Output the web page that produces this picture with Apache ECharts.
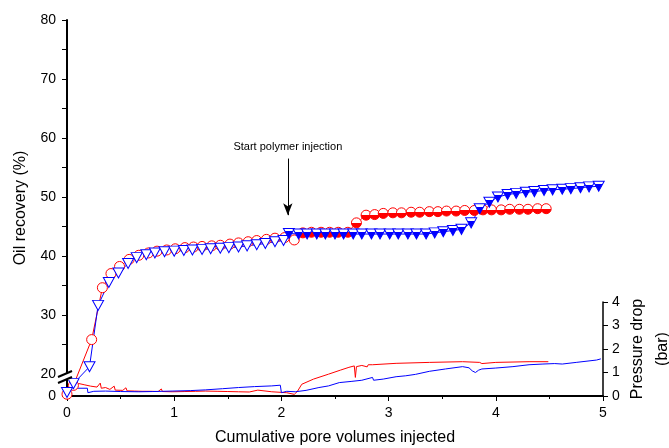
<!DOCTYPE html>
<html>
<head>
<meta charset="utf-8">
<script src="https://cdn.jsdelivr.net/npm/echarts@6/dist/echarts.min.js"></script>
<style>
  html, body { margin: 0; padding: 0; background: #fff; }
  #chart { width: 669px; height: 448px; }
</style>
</head>
<body>
<div id="chart"></div>
<script>
// oil recovery (%) - red circles
const recRedX = [0.00, 0.06, 0.23, 0.33, 0.41, 0.49, 0.58, 0.67, 0.76, 0.84, 0.93, 1.01, 1.10, 1.18, 1.26, 1.35, 1.43, 1.52, 1.60, 1.69, 1.77, 1.86, 1.94, 2.03, 2.12,
  2.20, 2.28, 2.37, 2.45, 2.53, 2.62, 2.70, 2.79, 2.87, 2.95, 3.04, 3.12, 3.21, 3.29, 3.38, 3.46, 3.54, 3.63, 3.71, 3.80, 3.88, 3.96, 4.05, 4.13, 4.22, 4.30, 4.39, 4.47];
const recRedY = [0.3, 1.8, 25.8, 34.6, 37.0, 38.2, 39.4, 40.1, 40.5, 40.8, 41.0, 41.2, 41.4, 41.5, 41.6, 41.7, 41.8, 42.0, 42.2, 42.4, 42.6, 42.8, 43.0, 43.1, 42.7,
  43.9, 44.0, 44.0, 44.0, 44.0, 44.0, 45.6, 46.9, 47.0, 47.2, 47.3, 47.3, 47.4, 47.4, 47.5, 47.5, 47.6, 47.6, 47.7, 47.7, 47.8, 47.8, 47.8, 47.9, 47.9, 47.9, 48.0, 48.0];
// oil recovery (%) - blue triangles
const recBlueX = [0.00, 0.06, 0.21, 0.29, 0.39, 0.48, 0.57, 0.65, 0.74, 0.82, 0.91, 1.00, 1.09, 1.17, 1.26, 1.34, 1.43, 1.51, 1.60, 1.68, 1.77, 1.85, 1.94, 2.02,
  2.07, 2.16, 2.24, 2.33, 2.41, 2.50, 2.58, 2.67, 2.75, 2.84, 2.92, 3.01, 3.09, 3.18, 3.26, 3.35, 3.43, 3.51, 3.60, 3.68, 3.77, 3.85, 3.94, 4.02, 4.11, 4.19, 4.28, 4.36, 4.45, 4.53, 4.62, 4.70, 4.79, 4.87, 4.96];
const recBlueY = [0.6, 2.1, 21.2, 31.6, 35.5, 37.1, 38.7, 39.7, 40.2, 40.5, 40.7, 40.8, 40.9, 41.0, 41.1, 41.2, 41.3, 41.4, 41.5, 41.7, 41.9, 42.1, 42.4, 42.6,
  43.8, 43.7, 43.7, 43.7, 43.7, 43.7, 43.7, 43.7, 43.7, 43.7, 43.7, 43.7, 43.7, 43.7, 43.7, 43.7, 43.9, 44.1, 44.3, 44.5, 45.6, 48.0, 49.1, 50.0, 50.4, 50.6, 50.8, 50.9, 51.1, 51.2, 51.3, 51.4, 51.55, 51.7, 51.8];
const polymerRedFrom = 2.15;
const polymerBlueFrom = 2.05;

// pressure drop (bar)
const presRedX = [0.00, 0.03, 0.06, 0.11, 0.16, 0.22, 0.28, 0.31, 0.32, 0.36, 0.40, 0.44, 0.45, 0.52, 0.55, 0.56, 0.63, 0.70, 0.78, 0.85, 0.88, 0.89, 0.98, 1.10, 1.20, 1.29, 1.40, 1.50, 1.60, 1.70, 1.78, 1.79, 1.91, 2.05, 2.12, 2.13, 2.15, 2.19,
  2.30, 2.44, 2.55, 2.63, 2.68, 2.69, 2.70, 2.75, 2.80, 2.81, 2.85, 3.07, 3.38, 3.69, 3.85, 3.87, 3.88, 4.00, 4.31, 4.49];
const presRedY = [0.15, 0.35, 0.45, 0.53, 0.48, 0.42, 0.38, 0.55, 0.33, 0.36, 0.28, 0.42, 0.25, 0.24, 0.35, 0.22, 0.21, 0.20, 0.20, 0.19, 0.30, 0.19, 0.18, 0.19, 0.20, 0.21, 0.20, 0.19, 0.18, 0.17, 0.25, 0.17, 0.18, 0.14, 0.07, 0.00, 0.20, 0.50,
  0.72, 0.93, 1.10, 1.22, 1.28, 0.79, 1.25, 1.30, 1.24, 1.33, 1.33, 1.39, 1.43, 1.46, 1.43, 1.38, 1.45, 1.43, 1.46, 1.46];
const presBlueX = [0.00, 0.02, 0.05, 0.10, 0.19, 0.195, 0.25, 0.36, 0.50, 0.67, 0.80, 0.98, 1.15, 1.29, 1.45, 1.60, 1.75, 1.91, 1.99, 2.00, 2.05, 2.13, 2.23, 2.35, 2.44, 2.54, 2.65, 2.75, 2.85, 2.86, 2.95,
  3.07, 3.16, 3.25, 3.38, 3.53, 3.69, 3.75, 3.78, 3.81, 3.84, 3.87, 4.00, 4.16, 4.31, 4.44, 4.55, 4.62, 4.75, 4.94, 4.98];
const presBlueY = [0.10, 0.25, 0.31, 0.33, 0.33, 0.14, 0.20, 0.21, 0.19, 0.18, 0.19, 0.21, 0.23, 0.26, 0.31, 0.36, 0.40, 0.43, 0.46, 0.14, 0.20, 0.18, 0.24, 0.36, 0.43, 0.57, 0.62, 0.67, 0.79, 0.67, 0.72,
  0.82, 0.86, 0.92, 1.05, 1.15, 1.25, 1.20, 1.07, 1.00, 1.10, 1.15, 1.19, 1.25, 1.33, 1.36, 1.38, 1.36, 1.43, 1.53, 1.58];

const xTicks = [0, 1, 2, 3, 4, 5];
const recLabels = [0, 20, 30, 40, 50, 60, 70, 80];
const recTicks = [0, 20, 25, 30, 35, 40, 45, 50, 55, 60, 65, 70, 75, 80];
const font = "'Liberation Sans', Arial, sans-serif";
const RED = '#ff0000';
const BLUE = '#0000ff';

const halfRed = new echarts.graphic.LinearGradient(0, 0, 0, 1, [
  {offset: 0, color: '#fff'}, {offset: 0.5, color: '#fff'},
  {offset: 0.5, color: RED}, {offset: 1, color: RED}
]);
const halfBlue = new echarts.graphic.LinearGradient(0, 0, 0, 1, [
  {offset: 0, color: '#fff'}, {offset: 0.3, color: '#fff'},
  {offset: 0.3, color: BLUE}, {offset: 1, color: BLUE}
]);
const triDown = 'path://M0,0 L10,0 L5,9 Z';

const redData = recRedX.map((x, i) => ({
  value: [x, recRedY[i]],
  itemStyle: {color: x >= polymerRedFrom ? halfRed : '#fff', borderColor: RED, borderWidth: 1}
}));
const blueData = recBlueX.map((x, i) => ({
  value: [x, recBlueY[i]],
  itemStyle: {color: x >= polymerBlueFrom ? halfBlue : '#fff', borderColor: BLUE, borderWidth: 1}
}));

const axisLabel = {color: '#000', fontSize: 14, fontFamily: font};
const nameText = {color: '#000', fontSize: 16, fontFamily: font};

const chart = echarts.init(document.getElementById('chart'));
chart.setOption({
  animation: false,
  grid: [
    {left: 67, right: 66, top: 20, bottom: 52, outerBoundsMode: 'none', containLabel: false},
    {left: 67, right: 66, top: 302, bottom: 52, outerBoundsMode: 'none', containLabel: false}
  ],
  xAxis: [
    {
      gridIndex: 0,
      type: 'value',
      min: 0, max: 5, interval: 1,
      axisLine: {onZero: false, lineStyle: {color: '#000', width: 2}},
      axisTick: {length: 5, lineStyle: {color: '#000', width: 1}},
      minorTick: {show: true, splitNumber: 2, length: 3, lineStyle: {color: '#000'}},
      axisLabel: {...axisLabel, margin: 10, formatter: v => xTicks.includes(v) ? String(v) : ''},
      splitLine: {show: false},
      name: 'Cumulative pore volumes injected',
      nameLocation: 'middle',
      nameGap: 34,
      nameMoveOverlap: false,
      nameTextStyle: nameText
    },
    {gridIndex: 1, type: 'value', min: 0, max: 5, show: false}
  ],
  yAxis: [
    {
      gridIndex: 0,
      type: 'value',
      min: 0, max: 80, interval: 10,
      breaks: [{start: 3, end: 20, gap: '1.2%'}],
      breakArea: {show: false},
      axisLine: {onZero: false, lineStyle: {color: '#000', width: 2}},
      axisTick: {length: 5, customValues: recTicks, lineStyle: {color: '#000', width: 1}},
      axisLabel: {...axisLabel, margin: 11, customValues: recLabels},
      splitLine: {show: false},
      name: 'Oil recovery (%)',
      nameLocation: 'middle',
      nameGap: 38,
      nameTextStyle: nameText
    },
    {
      gridIndex: 1,
      type: 'value',
      position: 'right',
      min: 0, max: 4, interval: 1,
      axisLine: {show: true, onZero: false, lineStyle: {color: '#000', width: 1.5}},
      axisTick: {show: true, length: 5, lineStyle: {color: '#000', width: 1}},
      axisLabel: {...axisLabel, margin: 9},
      splitLine: {show: false},
      name: 'Pressure drop\n(bar)',
      nameLocation: 'middle',
      nameRotate: 90,
      nameGap: 22,
      nameMoveOverlap: false,
      nameTextStyle: {...nameText, lineHeight: 25}
    }
  ],
  graphic: [
    {type: 'rect', shape: {x: 64, y: 374, width: 6, height: 6}, style: {fill: '#fff'}, z: 100},
    {type: 'line', shape: {x1: 58, y1: 377, x2: 72, y2: 371}, style: {stroke: '#000', lineWidth: 2}, z: 101},
    {type: 'line', shape: {x1: 58, y1: 383, x2: 72, y2: 377}, style: {stroke: '#000', lineWidth: 2}, z: 101}
  ],
  series: [
    {
      name: 'pressure red',
      type: 'line',
      xAxisIndex: 1, yAxisIndex: 1,
      showSymbol: false,
      lineStyle: {color: RED, width: 1},
      itemStyle: {color: RED},
      data: presRedX.map((x, i) => [x, presRedY[i]])
    },
    {
      name: 'pressure blue',
      type: 'line',
      xAxisIndex: 1, yAxisIndex: 1,
      showSymbol: false,
      lineStyle: {color: BLUE, width: 1},
      itemStyle: {color: BLUE},
      data: presBlueX.map((x, i) => [x, presBlueY[i]])
    },
    {
      name: 'recovery red',
      type: 'line',
      xAxisIndex: 0, yAxisIndex: 0,
      symbol: 'circle',
      symbolSize: 10,
      lineStyle: {color: RED, width: 1},
      data: redData,
      markLine: {
        silent: true,
        symbol: ['none', 'arrow'],
        symbolSize: [7, 12],
        lineStyle: {color: '#000', width: 1, type: 'solid'},
        label: {show: true, position: 'start', distance: 6, formatter: 'Start polymer injection',
          color: '#000', fontSize: 11, fontFamily: font},
        data: [[{coord: [2.06, 56.5]}, {coord: [2.06, 46.9]}]]
      }
    },
    {
      name: 'recovery blue',
      type: 'line',
      xAxisIndex: 0, yAxisIndex: 0,
      symbol: triDown,
      symbolSize: [11, 10],
      lineStyle: {color: BLUE, width: 1},
      data: blueData
    }
  ]
});
</script>
</body>
</html>
